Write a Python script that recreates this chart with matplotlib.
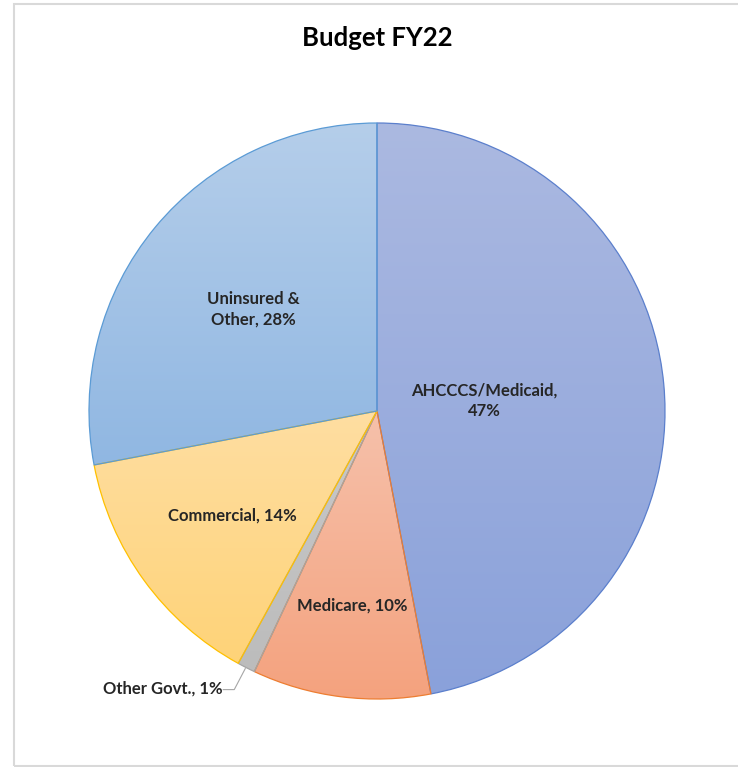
import numpy as np
import matplotlib
matplotlib.use("Agg")
import matplotlib.pyplot as plt
from matplotlib.colors import LinearSegmentedColormap
from matplotlib.patches import Rectangle

# Dane
labels = ["AHCCCS/Medicaid", "Medicare", "Other Govt.", "Commercial", "Uninsured &\nOther"]
values = [47, 10, 1, 14, 28]
top_colors = ["#ABB9E1", "#F6C1AB", "#C9C9C9", "#FEDEA2", "#B5CEEA"]
bottom_colors = ["#8AA1DA", "#F4A27E", "#BCBCBC", "#FFD378", "#90B7E2"]
edge_colors = ["#5B7FCC", "#ED7D31", "#A5A5A5", "#FFC000", "#5B9BD5"]
label_radius = [0.375, 0.68, None, 0.62, 0.555]

W, H = 738, 767
fig = plt.figure(figsize=(W / 100, H / 100), dpi=100)
ax = fig.add_axes([0, 0, 1, 1])

# ramka wykresu
ax.add_patch(Rectangle((14, 1), W + 10, H - 5, fill=False, edgecolor="#D9D9D9", lw=1.5))

cx, cy, R = 377, H - 411, 288
wedges, _ = ax.pie(values, startangle=90, counterclock=False, center=(cx, cy), radius=R,
                   frame=True, wedgeprops=dict(linewidth=0.9))

grad = np.linspace(0, 1, 256).reshape(-1, 1)
for w, c0, c1, ec in zip(wedges, top_colors, bottom_colors, edge_colors):
    w.set_facecolor("none")
    w.set_edgecolor(ec)
    w.set_zorder(3)
    bb = w.get_path().get_extents(w.get_patch_transform())
    cmap = LinearSegmentedColormap.from_list("g", [c0, c1])
    im = ax.imshow(grad, cmap=cmap, extent=[bb.x0, bb.x1, bb.y0, bb.y1],
                   origin="upper", aspect="auto", zorder=2, interpolation="bilinear")
    im.set_clip_path(w)

ax.set_xlim(0, W)
ax.set_ylim(0, H)
ax.set_aspect("equal")
ax.axis("off")

font = "Lato"
total = sum(values)
start = 90.0
for i, (lab, v) in enumerate(zip(labels, values)):
    pct = f"{v}%"
    mid = start - 360 * v / total / 2
    start -= 360 * v / total
    a = np.deg2rad(mid)
    if label_radius[i] is None:
        ex, ey = cx + R * np.cos(a), cy + R * np.sin(a)
        ax.plot([ex - 1, ex - 12, ex - 23], [ey - 1, ey - 22, ey - 22], color="#A6A6A6", lw=0.8, zorder=4)
        ax.text(ex - 24, ey - 21, f"{lab}, {pct}", ha="right", va="center",
                fontsize=12, fontweight="bold", family=font, color="#262626", zorder=5)
        continue
    r = label_radius[i] * R
    tx, ty = cx + r * np.cos(a), cy + r * np.sin(a)
    if i == 0:
        txt = f"{lab},\n{pct}"
    else:
        txt = f"{lab}, {pct}"
    ax.text(tx, ty, txt, ha="center", va="center", fontsize=12, fontweight="bold",
            family=font, color="#262626", linespacing=1.4, zorder=5)

ax.text(cx, H - 38, "Budget FY22", ha="center", va="center", fontsize=18.5,
        fontweight="bold", family=font, color="#000000")

fig.savefig("out.png", dpi=100)
